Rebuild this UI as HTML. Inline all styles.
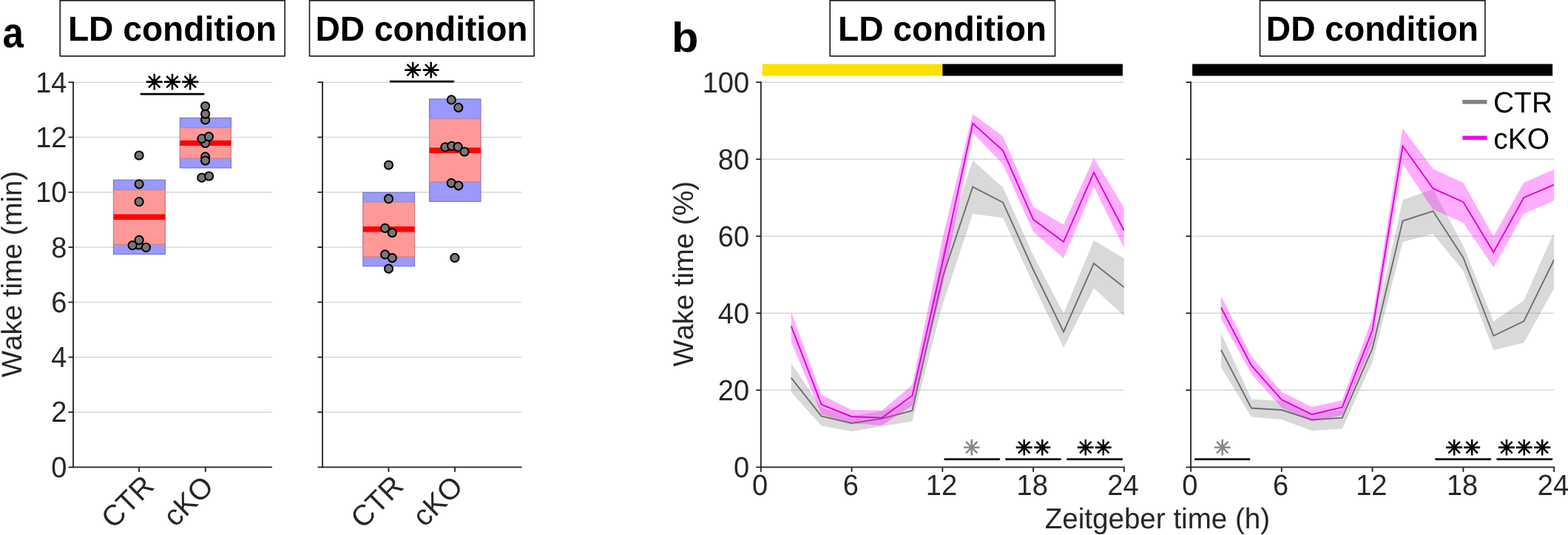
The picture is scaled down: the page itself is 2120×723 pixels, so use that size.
<!DOCTYPE html>
<html lang="en">
<head>
<meta charset="utf-8">
<title>Wake time in LD and DD conditions</title>
<style>
html,body{margin:0;padding:0;background:#ffffff;}
body{width:2120px;height:723px;overflow:hidden;}
svg{display:block;font-family:"Liberation Sans", sans-serif;}
text{font-kerning:none;text-rendering:geometricPrecision;}
.ast{font-family:"DejaVu Sans", "Liberation Sans", sans-serif;text-anchor:middle;stroke-linejoin:miter;}
</style>
</head>
<body>
<svg width="2120" height="723" viewBox="0 0 2120 723" role="img" aria-label="Wake time in LD and DD conditions for CTR and cKO">
<rect x="0" y="0" width="2120" height="723" fill="#ffffff"/>
<text transform="translate(3.50,64.44) scale(0.8888,1.0000)" font-size="57.5" text-anchor="start" font-weight="bold" fill="#000">a</text>
<text transform="translate(28.50,370.40) rotate(-90)" font-size="38.35" text-anchor="middle" font-weight="normal" fill="#262626">Wake time (min)</text>
<rect x="81.20" y="0.8" width="303.90" height="75" fill="#fff" stroke="#1a1a1a" stroke-width="1.6"/>
<text transform="translate(232.85,55.20) scale(1.0000,1.0180)" font-size="46.15" text-anchor="middle" font-weight="bold" fill="#000">LD condition</text>
<rect x="418.50" y="0.8" width="303.60" height="75" fill="#fff" stroke="#1a1a1a" stroke-width="1.6"/>
<text transform="translate(570.00,55.20) scale(1.0000,1.0180)" font-size="46.15" text-anchor="middle" font-weight="bold" fill="#000">DD condition</text>
<line x1="99.00" y1="557.00" x2="368.00" y2="557.00" stroke="#d8d8d8" stroke-width="1.5" stroke-linecap="butt" />
<line x1="99.00" y1="482.70" x2="368.00" y2="482.70" stroke="#d8d8d8" stroke-width="1.5" stroke-linecap="butt" />
<line x1="99.00" y1="408.40" x2="368.00" y2="408.40" stroke="#d8d8d8" stroke-width="1.5" stroke-linecap="butt" />
<line x1="99.00" y1="334.10" x2="368.00" y2="334.10" stroke="#d8d8d8" stroke-width="1.5" stroke-linecap="butt" />
<line x1="99.00" y1="259.80" x2="368.00" y2="259.80" stroke="#d8d8d8" stroke-width="1.5" stroke-linecap="butt" />
<line x1="99.00" y1="185.50" x2="368.00" y2="185.50" stroke="#d8d8d8" stroke-width="1.5" stroke-linecap="butt" />
<line x1="99.00" y1="111.20" x2="368.00" y2="111.20" stroke="#d8d8d8" stroke-width="1.5" stroke-linecap="butt" />
<rect x="153.50" y="243.20" width="69.80" height="100.30" fill="#9999ff" stroke="#7676cc" stroke-width="1.2"/>
<rect x="153.50" y="256.60" width="69.80" height="73.60" fill="#ff9999" stroke="#d07f80" stroke-width="1.2"/>
<line x1="153.50" y1="293.30" x2="223.30" y2="293.30" stroke="#ff0000" stroke-width="7.4" stroke-linecap="butt" />
<rect x="243.40" y="159.40" width="69.00" height="67.50" fill="#9999ff" stroke="#7676cc" stroke-width="1.2"/>
<rect x="243.40" y="172.60" width="69.00" height="41.40" fill="#ff9999" stroke="#d07f80" stroke-width="1.2"/>
<line x1="243.40" y1="193.40" x2="312.40" y2="193.40" stroke="#ff0000" stroke-width="7.4" stroke-linecap="butt" />
<circle cx="188.10" cy="210.00" r="5.6" fill="#777777" stroke="#000" stroke-width="2"/>
<circle cx="188.10" cy="248.80" r="5.6" fill="#777777" stroke="#000" stroke-width="2"/>
<circle cx="188.10" cy="272.70" r="5.6" fill="#777777" stroke="#000" stroke-width="2"/>
<circle cx="187.60" cy="331.00" r="5.6" fill="#777777" stroke="#000" stroke-width="2"/>
<circle cx="179.10" cy="331.60" r="5.6" fill="#777777" stroke="#000" stroke-width="2"/>
<circle cx="197.40" cy="334.40" r="5.6" fill="#777777" stroke="#000" stroke-width="2"/>
<circle cx="188.10" cy="324.40" r="5.6" fill="#777777" stroke="#000" stroke-width="2"/>
<circle cx="277.60" cy="161.90" r="5.6" fill="#777777" stroke="#000" stroke-width="2"/>
<circle cx="277.60" cy="154.00" r="5.6" fill="#777777" stroke="#000" stroke-width="2"/>
<circle cx="277.60" cy="143.50" r="5.6" fill="#777777" stroke="#000" stroke-width="2"/>
<circle cx="277.60" cy="193.50" r="5.6" fill="#777777" stroke="#000" stroke-width="2"/>
<circle cx="272.90" cy="187.30" r="5.6" fill="#777777" stroke="#000" stroke-width="2"/>
<circle cx="282.40" cy="184.70" r="5.6" fill="#777777" stroke="#000" stroke-width="2"/>
<circle cx="277.60" cy="211.80" r="5.6" fill="#777777" stroke="#000" stroke-width="2"/>
<circle cx="277.60" cy="217.00" r="5.6" fill="#777777" stroke="#000" stroke-width="2"/>
<circle cx="272.80" cy="240.20" r="5.6" fill="#777777" stroke="#000" stroke-width="2"/>
<circle cx="282.60" cy="238.00" r="5.6" fill="#777777" stroke="#000" stroke-width="2"/>
<line x1="99.00" y1="110.30" x2="99.00" y2="632.20" stroke="#202020" stroke-width="1.8" stroke-linecap="butt" />
<line x1="92.50" y1="631.30" x2="368.00" y2="631.30" stroke="#202020" stroke-width="1.8" stroke-linecap="butt" />
<line x1="92.50" y1="557.00" x2="99.00" y2="557.00" stroke="#202020" stroke-width="1.8" stroke-linecap="butt" />
<text transform="translate(90.50,570.40) scale(1.0000,1.0360)" font-size="38.0" text-anchor="end" font-weight="normal" fill="#262626">2</text>
<line x1="92.50" y1="482.70" x2="99.00" y2="482.70" stroke="#202020" stroke-width="1.8" stroke-linecap="butt" />
<text transform="translate(90.50,496.10) scale(1.0000,1.0360)" font-size="38.0" text-anchor="end" font-weight="normal" fill="#262626">4</text>
<line x1="92.50" y1="408.40" x2="99.00" y2="408.40" stroke="#202020" stroke-width="1.8" stroke-linecap="butt" />
<text transform="translate(90.50,421.80) scale(1.0000,1.0360)" font-size="38.0" text-anchor="end" font-weight="normal" fill="#262626">6</text>
<line x1="92.50" y1="334.10" x2="99.00" y2="334.10" stroke="#202020" stroke-width="1.8" stroke-linecap="butt" />
<text transform="translate(90.50,347.50) scale(1.0000,1.0360)" font-size="38.0" text-anchor="end" font-weight="normal" fill="#262626">8</text>
<line x1="92.50" y1="259.80" x2="99.00" y2="259.80" stroke="#202020" stroke-width="1.8" stroke-linecap="butt" />
<text transform="translate(90.50,273.20) scale(1.0000,1.0360)" font-size="38.0" text-anchor="end" font-weight="normal" fill="#262626">10</text>
<line x1="92.50" y1="185.50" x2="99.00" y2="185.50" stroke="#202020" stroke-width="1.8" stroke-linecap="butt" />
<text transform="translate(90.50,198.90) scale(1.0000,1.0360)" font-size="38.0" text-anchor="end" font-weight="normal" fill="#262626">12</text>
<line x1="92.50" y1="111.20" x2="99.00" y2="111.20" stroke="#202020" stroke-width="1.8" stroke-linecap="butt" />
<text transform="translate(90.50,124.60) scale(1.0000,1.0360)" font-size="38.0" text-anchor="end" font-weight="normal" fill="#262626">14</text>
<text transform="translate(90.50,644.70) scale(1.0000,1.0360)" font-size="38.0" text-anchor="end" font-weight="normal" fill="#262626">0</text>
<line x1="188.00" y1="631.30" x2="188.00" y2="637.80" stroke="#202020" stroke-width="1.8" stroke-linecap="butt" />
<line x1="277.80" y1="631.30" x2="277.80" y2="637.80" stroke="#202020" stroke-width="1.8" stroke-linecap="butt" />
<text transform="translate(181.70,687.50) rotate(-45)" font-size="39.3" text-anchor="middle" font-weight="normal" fill="#262626">CTR</text>
<text transform="translate(263.90,686.60) rotate(-45)" font-size="39.3" text-anchor="middle" font-weight="normal" fill="#262626">cKO</text>
<line x1="190.80" y1="127.10" x2="275.20" y2="127.10" stroke="#000" stroke-width="2.7" stroke-linecap="round" />
<text class="ast" x="208.60" y="121.30" font-size="28.5" fill="#000" stroke="#000" stroke-width="1.15">&#x2733;</text>
<text class="ast" x="232.90" y="121.30" font-size="28.5" fill="#000" stroke="#000" stroke-width="1.15">&#x2733;</text>
<text class="ast" x="257.20" y="121.30" font-size="28.5" fill="#000" stroke="#000" stroke-width="1.15">&#x2733;</text>
<line x1="436.00" y1="557.00" x2="705.50" y2="557.00" stroke="#d8d8d8" stroke-width="1.5" stroke-linecap="butt" />
<line x1="436.00" y1="482.70" x2="705.50" y2="482.70" stroke="#d8d8d8" stroke-width="1.5" stroke-linecap="butt" />
<line x1="436.00" y1="408.40" x2="705.50" y2="408.40" stroke="#d8d8d8" stroke-width="1.5" stroke-linecap="butt" />
<line x1="436.00" y1="334.10" x2="705.50" y2="334.10" stroke="#d8d8d8" stroke-width="1.5" stroke-linecap="butt" />
<line x1="436.00" y1="259.80" x2="705.50" y2="259.80" stroke="#d8d8d8" stroke-width="1.5" stroke-linecap="butt" />
<line x1="436.00" y1="185.50" x2="705.50" y2="185.50" stroke="#d8d8d8" stroke-width="1.5" stroke-linecap="butt" />
<line x1="436.00" y1="111.20" x2="705.50" y2="111.20" stroke="#d8d8d8" stroke-width="1.5" stroke-linecap="butt" />
<rect x="490.90" y="260.10" width="69.60" height="99.60" fill="#9999ff" stroke="#7676cc" stroke-width="1.2"/>
<rect x="490.90" y="273.00" width="69.60" height="74.10" fill="#ff9999" stroke="#d07f80" stroke-width="1.2"/>
<line x1="490.90" y1="309.80" x2="560.50" y2="309.80" stroke="#ff0000" stroke-width="7.4" stroke-linecap="butt" />
<rect x="580.60" y="133.90" width="69.30" height="138.40" fill="#9999ff" stroke="#7676cc" stroke-width="1.2"/>
<rect x="580.60" y="160.50" width="69.30" height="85.20" fill="#ff9999" stroke="#d07f80" stroke-width="1.2"/>
<line x1="580.60" y1="203.20" x2="649.90" y2="203.20" stroke="#ff0000" stroke-width="7.4" stroke-linecap="butt" />
<circle cx="525.50" cy="223.00" r="5.6" fill="#777777" stroke="#000" stroke-width="2"/>
<circle cx="525.50" cy="268.70" r="5.6" fill="#777777" stroke="#000" stroke-width="2"/>
<circle cx="520.60" cy="308.30" r="5.6" fill="#777777" stroke="#000" stroke-width="2"/>
<circle cx="530.30" cy="314.50" r="5.6" fill="#777777" stroke="#000" stroke-width="2"/>
<circle cx="520.60" cy="343.90" r="5.6" fill="#777777" stroke="#000" stroke-width="2"/>
<circle cx="530.30" cy="348.60" r="5.6" fill="#777777" stroke="#000" stroke-width="2"/>
<circle cx="525.50" cy="363.10" r="5.6" fill="#777777" stroke="#000" stroke-width="2"/>
<circle cx="610.30" cy="134.90" r="5.6" fill="#777777" stroke="#000" stroke-width="2"/>
<circle cx="619.80" cy="145.30" r="5.6" fill="#777777" stroke="#000" stroke-width="2"/>
<circle cx="601.90" cy="198.80" r="5.6" fill="#777777" stroke="#000" stroke-width="2"/>
<circle cx="610.70" cy="197.30" r="5.6" fill="#777777" stroke="#000" stroke-width="2"/>
<circle cx="619.10" cy="198.40" r="5.6" fill="#777777" stroke="#000" stroke-width="2"/>
<circle cx="628.00" cy="205.00" r="5.6" fill="#777777" stroke="#000" stroke-width="2"/>
<circle cx="610.20" cy="247.30" r="5.6" fill="#777777" stroke="#000" stroke-width="2"/>
<circle cx="619.90" cy="250.80" r="5.6" fill="#777777" stroke="#000" stroke-width="2"/>
<circle cx="614.90" cy="348.40" r="5.6" fill="#777777" stroke="#000" stroke-width="2"/>
<line x1="436.00" y1="110.30" x2="436.00" y2="632.20" stroke="#202020" stroke-width="1.8" stroke-linecap="butt" />
<line x1="429.50" y1="631.30" x2="705.50" y2="631.30" stroke="#202020" stroke-width="1.8" stroke-linecap="butt" />
<line x1="429.50" y1="557.00" x2="436.00" y2="557.00" stroke="#202020" stroke-width="1.8" stroke-linecap="butt" />
<line x1="429.50" y1="482.70" x2="436.00" y2="482.70" stroke="#202020" stroke-width="1.8" stroke-linecap="butt" />
<line x1="429.50" y1="408.40" x2="436.00" y2="408.40" stroke="#202020" stroke-width="1.8" stroke-linecap="butt" />
<line x1="429.50" y1="334.10" x2="436.00" y2="334.10" stroke="#202020" stroke-width="1.8" stroke-linecap="butt" />
<line x1="429.50" y1="259.80" x2="436.00" y2="259.80" stroke="#202020" stroke-width="1.8" stroke-linecap="butt" />
<line x1="429.50" y1="185.50" x2="436.00" y2="185.50" stroke="#202020" stroke-width="1.8" stroke-linecap="butt" />
<line x1="429.50" y1="111.20" x2="436.00" y2="111.20" stroke="#202020" stroke-width="1.8" stroke-linecap="butt" />
<line x1="525.40" y1="631.30" x2="525.40" y2="637.80" stroke="#202020" stroke-width="1.8" stroke-linecap="butt" />
<line x1="615.00" y1="631.30" x2="615.00" y2="637.80" stroke="#202020" stroke-width="1.8" stroke-linecap="butt" />
<text transform="translate(519.10,687.50) rotate(-45)" font-size="39.3" text-anchor="middle" font-weight="normal" fill="#262626">CTR</text>
<text transform="translate(601.10,686.60) rotate(-45)" font-size="39.3" text-anchor="middle" font-weight="normal" fill="#262626">cKO</text>
<line x1="528.00" y1="110.10" x2="613.00" y2="110.10" stroke="#000" stroke-width="2.7" stroke-linecap="round" />
<text class="ast" x="558.30" y="104.80" font-size="28.5" fill="#000" stroke="#000" stroke-width="1.15">&#x2733;</text>
<text class="ast" x="582.60" y="104.80" font-size="28.5" fill="#000" stroke="#000" stroke-width="1.15">&#x2733;</text>
<text transform="translate(907.98,69.70) scale(1.0535,1.0000)" font-size="56.51" text-anchor="start" font-weight="bold" fill="#000">b</text>
<text transform="translate(937.30,370.20) rotate(-90)" font-size="38.25" text-anchor="middle" font-weight="normal" fill="#262626">Wake time (%)</text>
<rect x="1122.20" y="0.8" width="304.30" height="75" fill="#fff" stroke="#1a1a1a" stroke-width="1.6"/>
<text transform="translate(1274.05,55.20) scale(1.0000,1.0180)" font-size="46.15" text-anchor="middle" font-weight="bold" fill="#000">LD condition</text>
<rect x="1703.50" y="0.8" width="304.40" height="75" fill="#fff" stroke="#1a1a1a" stroke-width="1.6"/>
<text transform="translate(1855.40,55.20) scale(1.0000,1.0180)" font-size="46.15" text-anchor="middle" font-weight="bold" fill="#000">DD condition</text>
<rect x="1030.6" y="86.5" width="243.7" height="16" fill="#fae100"/>
<rect x="1274.3" y="86.5" width="243.6" height="16" fill="#000"/>
<rect x="1612.1" y="86.5" width="487.0" height="16" fill="#000"/>
<line x1="1028.80" y1="527.28" x2="1519.80" y2="527.28" stroke="#d8d8d8" stroke-width="1.5" stroke-linecap="butt" />
<line x1="1028.80" y1="423.26" x2="1519.80" y2="423.26" stroke="#d8d8d8" stroke-width="1.5" stroke-linecap="butt" />
<line x1="1028.80" y1="319.24" x2="1519.80" y2="319.24" stroke="#d8d8d8" stroke-width="1.5" stroke-linecap="butt" />
<line x1="1028.80" y1="215.22" x2="1519.80" y2="215.22" stroke="#d8d8d8" stroke-width="1.5" stroke-linecap="butt" />
<line x1="1028.80" y1="111.20" x2="1519.80" y2="111.20" stroke="#d8d8d8" stroke-width="1.5" stroke-linecap="butt" />
<clipPath id="clipa"><rect x="1028.80" y="80" width="491.00" height="560"/></clipPath>
<g clip-path="url(#clipa)">
<polygon points="1069.7,491.0 1110.6,551.0 1151.5,562.0 1192.5,556.0 1233.4,541.0 1274.3,340.0 1315.2,216.7 1356.1,253.3 1397.0,345.0 1438.0,423.5 1478.9,324.8 1519.8,349.2 1519.8,426.9 1478.9,389.6 1438.0,470.0 1397.0,384.0 1356.1,294.6 1315.2,288.9 1274.3,412.0 1233.4,569.6 1192.5,576.0 1151.5,583.0 1110.6,575.5 1069.7,530.0" fill="#808080" fill-opacity="0.3"/>
<polyline points="1069.7,510.6 1110.6,562.3 1151.5,572.0 1192.5,565.6 1233.4,555.0 1274.3,375.0 1315.2,252.5 1356.1,273.7 1397.0,364.5 1438.0,448.5 1478.9,355.9 1519.8,388.3" fill="none" stroke="#6e6e6e" stroke-width="1.9" stroke-linejoin="miter"/>
<polygon points="1069.7,421.6 1110.6,533.5 1151.5,554.0 1192.5,554.6 1233.4,520.3 1274.3,322.0 1315.2,154.2 1356.1,184.3 1397.0,279.4 1438.0,303.8 1478.9,213.4 1519.8,281.0 1519.8,335.3 1478.9,252.8 1438.0,349.0 1397.0,313.0 1356.1,222.2 1315.2,179.8 1274.3,388.0 1233.4,548.0 1192.5,575.0 1151.5,572.0 1110.6,560.0 1069.7,462.0" fill="#ff00ff" fill-opacity="0.32"/>
<polyline points="1069.7,440.7 1110.6,546.7 1151.5,563.0 1192.5,564.6 1233.4,534.7 1274.3,355.0 1315.2,166.9 1356.1,203.5 1397.0,296.6 1438.0,326.8 1478.9,233.1 1519.8,311.8" fill="none" stroke="#dc00dc" stroke-width="1.9" stroke-linejoin="miter"/>
</g>
<line x1="1028.80" y1="110.30" x2="1028.80" y2="632.20" stroke="#202020" stroke-width="1.8" stroke-linecap="butt" />
<line x1="1022.30" y1="631.30" x2="1520.70" y2="631.30" stroke="#202020" stroke-width="1.8" stroke-linecap="butt" />
<line x1="1022.30" y1="527.28" x2="1028.80" y2="527.28" stroke="#202020" stroke-width="1.8" stroke-linecap="butt" />
<text transform="translate(1013.10,540.68) scale(1.0000,1.0360)" font-size="38.0" text-anchor="end" font-weight="normal" fill="#262626">20</text>
<line x1="1022.30" y1="423.26" x2="1028.80" y2="423.26" stroke="#202020" stroke-width="1.8" stroke-linecap="butt" />
<text transform="translate(1013.10,436.66) scale(1.0000,1.0360)" font-size="38.0" text-anchor="end" font-weight="normal" fill="#262626">40</text>
<line x1="1022.30" y1="319.24" x2="1028.80" y2="319.24" stroke="#202020" stroke-width="1.8" stroke-linecap="butt" />
<text transform="translate(1013.10,332.64) scale(1.0000,1.0360)" font-size="38.0" text-anchor="end" font-weight="normal" fill="#262626">60</text>
<line x1="1022.30" y1="215.22" x2="1028.80" y2="215.22" stroke="#202020" stroke-width="1.8" stroke-linecap="butt" />
<text transform="translate(1013.10,228.62) scale(1.0000,1.0360)" font-size="38.0" text-anchor="end" font-weight="normal" fill="#262626">80</text>
<line x1="1022.30" y1="111.20" x2="1028.80" y2="111.20" stroke="#202020" stroke-width="1.8" stroke-linecap="butt" />
<text transform="translate(1013.10,124.60) scale(1.0000,1.0360)" font-size="38.0" text-anchor="end" font-weight="normal" fill="#262626">100</text>
<text transform="translate(1013.10,644.70) scale(1.0000,1.0360)" font-size="38.0" text-anchor="end" font-weight="normal" fill="#262626">0</text>
<line x1="1028.80" y1="631.30" x2="1028.80" y2="637.80" stroke="#202020" stroke-width="1.8" stroke-linecap="butt" />
<text transform="translate(1027.50,669.10) scale(1.0000,1.0360)" font-size="38.0" text-anchor="middle" font-weight="normal" fill="#262626">0</text>
<line x1="1151.55" y1="631.30" x2="1151.55" y2="637.80" stroke="#202020" stroke-width="1.8" stroke-linecap="butt" />
<text transform="translate(1150.25,669.10) scale(1.0000,1.0360)" font-size="38.0" text-anchor="middle" font-weight="normal" fill="#262626">6</text>
<line x1="1274.30" y1="631.30" x2="1274.30" y2="637.80" stroke="#202020" stroke-width="1.8" stroke-linecap="butt" />
<text transform="translate(1273.00,669.10) scale(1.0000,1.0360)" font-size="38.0" text-anchor="middle" font-weight="normal" fill="#262626">12</text>
<line x1="1397.05" y1="631.30" x2="1397.05" y2="637.80" stroke="#202020" stroke-width="1.8" stroke-linecap="butt" />
<text transform="translate(1395.75,669.10) scale(1.0000,1.0360)" font-size="38.0" text-anchor="middle" font-weight="normal" fill="#262626">18</text>
<line x1="1519.80" y1="631.30" x2="1519.80" y2="637.80" stroke="#202020" stroke-width="1.8" stroke-linecap="butt" />
<text transform="translate(1518.50,669.10) scale(1.0000,1.0360)" font-size="38.0" text-anchor="middle" font-weight="normal" fill="#262626">24</text>
<line x1="1277.60" y1="620.60" x2="1350.80" y2="620.60" stroke="#000" stroke-width="2.7" stroke-linecap="round" />
<text class="ast" x="1313.80" y="614.70" font-size="28.5" fill="#878787" stroke="#878787" stroke-width="1.0">&#x2733;</text>
<line x1="1360.30" y1="620.60" x2="1433.60" y2="620.60" stroke="#000" stroke-width="2.7" stroke-linecap="round" />
<text class="ast" x="1384.60" y="614.70" font-size="28.5" fill="#000" stroke="#000" stroke-width="1.15">&#x2733;</text>
<text class="ast" x="1409.30" y="614.70" font-size="28.5" fill="#000" stroke="#000" stroke-width="1.15">&#x2733;</text>
<line x1="1443.40" y1="620.60" x2="1516.70" y2="620.60" stroke="#000" stroke-width="2.7" stroke-linecap="round" />
<text class="ast" x="1467.70" y="614.70" font-size="28.5" fill="#000" stroke="#000" stroke-width="1.15">&#x2733;</text>
<text class="ast" x="1491.80" y="614.70" font-size="28.5" fill="#000" stroke="#000" stroke-width="1.15">&#x2733;</text>
<line x1="1610.00" y1="527.28" x2="2101.20" y2="527.28" stroke="#d8d8d8" stroke-width="1.5" stroke-linecap="butt" />
<line x1="1610.00" y1="423.26" x2="2101.20" y2="423.26" stroke="#d8d8d8" stroke-width="1.5" stroke-linecap="butt" />
<line x1="1610.00" y1="319.24" x2="2101.20" y2="319.24" stroke="#d8d8d8" stroke-width="1.5" stroke-linecap="butt" />
<line x1="1610.00" y1="215.22" x2="2101.20" y2="215.22" stroke="#d8d8d8" stroke-width="1.5" stroke-linecap="butt" />
<line x1="1610.00" y1="111.20" x2="2101.20" y2="111.20" stroke="#d8d8d8" stroke-width="1.5" stroke-linecap="butt" />
<clipPath id="clipb"><rect x="1610.00" y="80" width="491.20" height="560"/></clipPath>
<g clip-path="url(#clipb)">
<polygon points="1650.9,449.7 1691.9,539.3 1732.8,542.0 1773.7,558.5 1814.7,554.7 1855.6,454.5 1896.5,269.9 1937.5,255.7 1978.4,332.0 2019.3,434.6 2060.3,406.0 2101.2,313.4 2101.2,389.8 2060.3,463.2 2019.3,473.2 1978.4,366.0 1937.5,315.9 1896.5,327.1 1855.6,489.0 1814.7,579.6 1773.7,582.0 1732.8,567.0 1691.9,563.4 1650.9,496.6" fill="#808080" fill-opacity="0.3"/>
<polyline points="1650.9,472.9 1691.9,551.5 1732.8,554.0 1773.7,567.2 1814.7,564.7 1855.6,470.7 1896.5,298.5 1937.5,285.3 1978.4,348.2 2019.3,453.8 2060.3,434.1 2101.2,351.0" fill="none" stroke="#6e6e6e" stroke-width="1.9" stroke-linejoin="miter"/>
<polygon points="1650.9,399.9 1691.9,481.6 1732.8,529.4 1773.7,550.0 1814.7,541.0 1855.6,429.0 1896.5,173.5 1937.5,228.3 1978.4,247.0 2019.3,319.2 2060.3,246.7 2101.2,229.1 2101.2,271.0 2060.3,289.0 2019.3,361.0 1978.4,301.0 1937.5,283.0 1896.5,221.5 1855.6,463.0 1814.7,561.0 1773.7,569.7 1732.8,551.0 1691.9,505.5 1650.9,431.1" fill="#ff00ff" fill-opacity="0.32"/>
<polyline points="1650.9,415.6 1691.9,494.0 1732.8,540.2 1773.7,560.0 1814.7,550.5 1855.6,446.0 1896.5,197.3 1937.5,254.7 1978.4,273.0 2019.3,340.8 2060.3,267.0 2101.2,249.7" fill="none" stroke="#dc00dc" stroke-width="1.9" stroke-linejoin="miter"/>
</g>
<line x1="1610.00" y1="110.30" x2="1610.00" y2="632.20" stroke="#202020" stroke-width="1.8" stroke-linecap="butt" />
<line x1="1603.50" y1="631.30" x2="2102.10" y2="631.30" stroke="#202020" stroke-width="1.8" stroke-linecap="butt" />
<line x1="1603.50" y1="527.28" x2="1610.00" y2="527.28" stroke="#202020" stroke-width="1.8" stroke-linecap="butt" />
<line x1="1603.50" y1="423.26" x2="1610.00" y2="423.26" stroke="#202020" stroke-width="1.8" stroke-linecap="butt" />
<line x1="1603.50" y1="319.24" x2="1610.00" y2="319.24" stroke="#202020" stroke-width="1.8" stroke-linecap="butt" />
<line x1="1603.50" y1="215.22" x2="1610.00" y2="215.22" stroke="#202020" stroke-width="1.8" stroke-linecap="butt" />
<line x1="1603.50" y1="111.20" x2="1610.00" y2="111.20" stroke="#202020" stroke-width="1.8" stroke-linecap="butt" />
<line x1="1610.00" y1="631.30" x2="1610.00" y2="637.80" stroke="#202020" stroke-width="1.8" stroke-linecap="butt" />
<text transform="translate(1608.70,669.10) scale(1.0000,1.0360)" font-size="38.0" text-anchor="middle" font-weight="normal" fill="#262626">0</text>
<line x1="1732.80" y1="631.30" x2="1732.80" y2="637.80" stroke="#202020" stroke-width="1.8" stroke-linecap="butt" />
<text transform="translate(1731.50,669.10) scale(1.0000,1.0360)" font-size="38.0" text-anchor="middle" font-weight="normal" fill="#262626">6</text>
<line x1="1855.60" y1="631.30" x2="1855.60" y2="637.80" stroke="#202020" stroke-width="1.8" stroke-linecap="butt" />
<text transform="translate(1854.30,669.10) scale(1.0000,1.0360)" font-size="38.0" text-anchor="middle" font-weight="normal" fill="#262626">12</text>
<line x1="1978.40" y1="631.30" x2="1978.40" y2="637.80" stroke="#202020" stroke-width="1.8" stroke-linecap="butt" />
<text transform="translate(1977.10,669.10) scale(1.0000,1.0360)" font-size="38.0" text-anchor="middle" font-weight="normal" fill="#262626">18</text>
<line x1="2101.20" y1="631.30" x2="2101.20" y2="637.80" stroke="#202020" stroke-width="1.8" stroke-linecap="butt" />
<text transform="translate(2099.90,669.10) scale(1.0000,1.0360)" font-size="38.0" text-anchor="middle" font-weight="normal" fill="#262626">24</text>
<line x1="1616.20" y1="620.60" x2="1689.10" y2="620.60" stroke="#000" stroke-width="2.7" stroke-linecap="round" />
<text class="ast" x="1652.60" y="614.70" font-size="28.5" fill="#878787" stroke="#878787" stroke-width="1.0">&#x2733;</text>
<line x1="1941.50" y1="620.60" x2="2014.80" y2="620.60" stroke="#000" stroke-width="2.7" stroke-linecap="round" />
<text class="ast" x="1966.10" y="614.70" font-size="28.5" fill="#000" stroke="#000" stroke-width="1.15">&#x2733;</text>
<text class="ast" x="1990.30" y="614.70" font-size="28.5" fill="#000" stroke="#000" stroke-width="1.15">&#x2733;</text>
<line x1="2024.50" y1="620.60" x2="2098.00" y2="620.60" stroke="#000" stroke-width="2.7" stroke-linecap="round" />
<text class="ast" x="2036.90" y="614.70" font-size="28.5" fill="#000" stroke="#000" stroke-width="1.15">&#x2733;</text>
<text class="ast" x="2060.80" y="614.70" font-size="28.5" fill="#000" stroke="#000" stroke-width="1.15">&#x2733;</text>
<text class="ast" x="2085.30" y="614.70" font-size="28.5" fill="#000" stroke="#000" stroke-width="1.15">&#x2733;</text>
<line x1="1977.40" y1="137.70" x2="2010.50" y2="137.70" stroke="#808080" stroke-width="5.5" stroke-linecap="butt" />
<line x1="1977.40" y1="186.20" x2="2010.50" y2="186.20" stroke="#f500f5" stroke-width="5.5" stroke-linecap="butt" />
<text transform="translate(2019.02,152.31) scale(0.9806,1.0000)" font-size="39.69" text-anchor="start" font-weight="normal" fill="#000">CTR</text>
<text transform="translate(2019.34,200.61) scale(0.9823,1.0000)" font-size="39.69" text-anchor="start" font-weight="normal" fill="#000">cKO</text>
<text transform="translate(1564.90,713.90) scale(1.0000,1.0080)" font-size="38.6" text-anchor="middle" font-weight="normal" fill="#262626">Zeitgeber time (h)</text>
</svg>
</body>
</html>
